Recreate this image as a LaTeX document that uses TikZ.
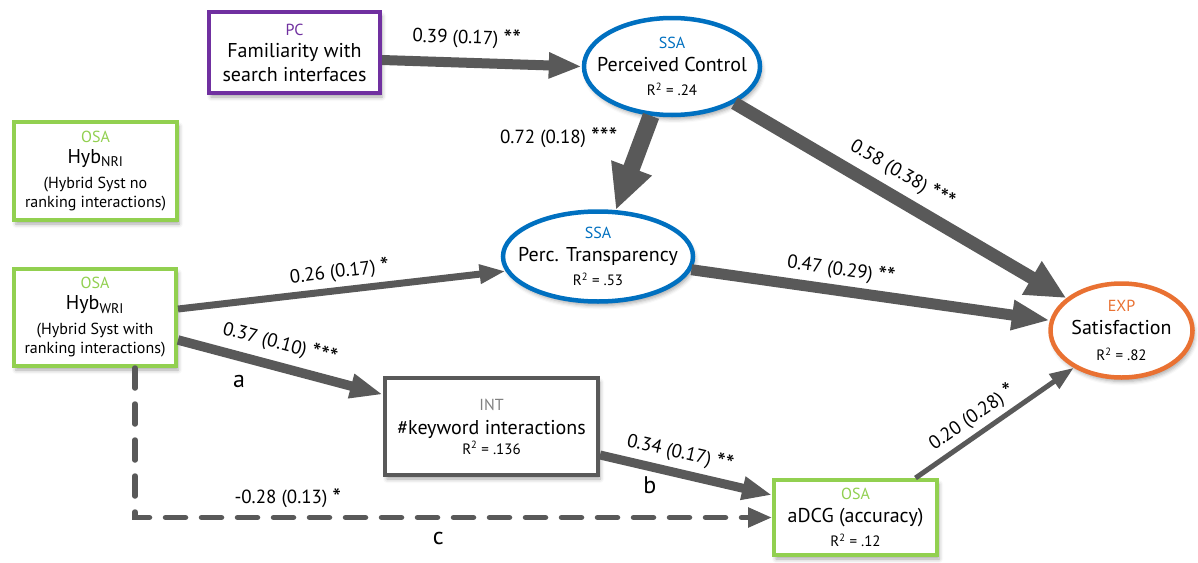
\documentclass[tikz,border=0pt]{standalone}
\usepackage{fontspec}
\setmainfont{PT Sans}
\usetikzlibrary{arrows.meta,shapes.geometric,shadows.blur}
\definecolor{purp}{HTML}{7030A0}
\definecolor{osag}{HTML}{92D050}
\definecolor{ssab}{HTML}{0070C0}
\definecolor{expo}{HTML}{E97132}
\definecolor{ecol}{HTML}{595959}
\definecolor{intg}{HTML}{808080}
\newcommand\catf{\fontsize{16}{23}\selectfont}
\newcommand\titf{\fontsize{20}{23}\selectfont}
\newcommand\subf{\fontsize{16}{23}\selectfont}
\newcommand\rsq[1]{\fontsize{15}{23}\selectfont R\textsuperscript{2} = #1}
\newcommand\stars[1]{\raisebox{-2.5pt}{\fontsize{25}{25}\selectfont #1}}
\begin{document}
\begin{tikzpicture}[x=1pt,y=-1pt,
  shadowed/.style={blur shadow={shadow xshift=2pt,shadow yshift=-4pt,shadow blur radius=4pt,shadow opacity=35}},
  rbox/.style={draw=#1, line width=4pt, fill=white, inner sep=0pt, align=center, font=\titf, shadowed},
  ebox/.style={ellipse, draw=#1, line width=4.5pt, fill=white, inner xsep=-30pt, inner ysep=-8pt, align=center, font=\titf, shadowed},
  conn/.style={draw=ecol, line width=#1},
  lab/.style={font=\fontsize{19}{22}\selectfont, inner sep=0pt, text=black},
  letter/.style={font=\fontsize{24}{26}\selectfont, inner sep=0pt, text=black},
]
\useasboundingbox (0,0) rectangle (1198,562);

% nodes
\node[rbox=purp, minimum width=171pt, minimum height=81pt] (pc) at (294.5,52.5)
  {{\catf\color{purp}PC}\\[-1pt] \titf Familiarity with\\[1pt] \titf search interfaces};
\node[rbox=osag, minimum width=163pt, minimum height=98pt] (nri) at (95.5,171)
  {{\catf\color{osag}OSA}\\[-2pt] \titf Hyb\textsubscript{NRI}\\[2pt] \subf (Hybrid Syst no\\[-4pt] \subf ranking interactions)};
\node[rbox=osag, minimum width=162pt, minimum height=97pt] (wri) at (95,317.5)
  {{\catf\color{osag}OSA}\\[-2pt] \titf Hyb\textsubscript{WRI}\\[2pt] \subf (Hybrid Syst with\\[-4pt] \subf ranking interactions)};
\node[ebox=ssab, minimum width=176pt, minimum height=97pt] (ctrl) at (672,66.5)
  {{\catf\color{ssab}SSA}\\ \titf Perceived Control\\[1pt] \rsq{.24}};
\node[ebox=ssab, minimum width=190pt, minimum height=90pt] (tr) at (598,256.5)
  {{\catf\color{ssab}SSA}\\ \titf Perc. Transparency\\[1pt] \rsq{.53}};
\node[ebox=expo, minimum width=142pt, minimum height=94pt] (sat) at (1121.5,330.5)
  {{\catf\color{expo}EXP}\\ \titf Satisfaction\\[3pt] \rsq{.82}};
\node[rbox=ecol, minimum width=213pt, minimum height=97pt] (int) at (491.5,426.5)
  {{\catf\color{intg}INT}\\[1pt] \titf \#keyword interactions\\[-3pt] \rsq{.136}};
\node[rbox=osag, minimum width=163pt, minimum height=75pt] (adcg) at (855.5,517.5)
  {{\catf\color{osag}OSA}\\ \titf aDCG (accuracy)\\[1pt] \rsq{.12}};

% connectors
\draw[conn=10pt, -{Triangle[length=33pt,width=24pt]}] ([yshift=-7.5pt]pc.east) --
  node[lab, sloped, above=10pt, pos=.42]{0.39 (0.17) \stars{**}} (ctrl.west);
\draw[conn=17pt, -{Triangle[length=45pt,width=40pt]}] (ctrl.247) --
  node[lab, pos=.23, left=17pt]{0.72 (0.18) \stars{***}} (tr.69);
\draw[conn=13pt, -{Triangle[length=40pt,width=36pt]}] (ctrl) --
  node[lab, sloped, above=7.5pt, pos=.47]{0.58 (0.38) \stars{***}} (sat);
\draw[conn=11pt, -{Triangle[length=38pt,width=28pt]}] (tr) --
  node[lab, sloped, above=5.5pt, pos=.41]{0.47 (0.29) \stars{**}} (sat);
\draw[conn=7pt, -{Triangle[length=26pt,width=18pt]}] ([yshift=8.5pt]wri.east) --
  node[lab, sloped, above=5pt, pos=.5]{0.26 (0.17) \stars{*}} (tr.189);
\draw[conn=9.5pt, -{Triangle[length=33pt,width=23pt]}] ([yshift=-22.5pt]wri.east) --
  node[lab, sloped, above=8pt, pos=.47]{0.37 (0.10) \stars{***}}
  node[letter, pos=.33, xshift=-6.6pt, yshift=-24pt]{a} ([yshift=32pt]int.west);
\draw[conn=9pt, -{Triangle[length=30pt,width=22pt]}] ([yshift=-28.5pt]int.east) --
  node[lab, sloped, above=6pt, pos=.44]{0.34 (0.17) \stars{**}}
  node[letter, pos=.31, xshift=-3.5pt, yshift=-17.5pt]{b} ([yshift=22.5pt]adcg.west);
\draw[conn=5pt, -{Triangle[length=24pt,width=17pt]}] ([xshift=60pt]adcg.north) --
  node[lab, sloped, above=5pt, pos=.42]{0.20 (0.28) \stars{*}} (sat.218);
\draw[conn=5.5pt, dash pattern=on 20pt off 16pt, line cap=round, -{Triangle[length=24pt,width=19pt]}]
  ([xshift=40pt]wri.south) |-
  node[lab, pos=.62, above=7pt]{-0.28 (0.13) \stars{*}}
  node[letter, pos=.738, yshift=-21pt]{c} (adcg.west);
\end{tikzpicture}
\end{document}
